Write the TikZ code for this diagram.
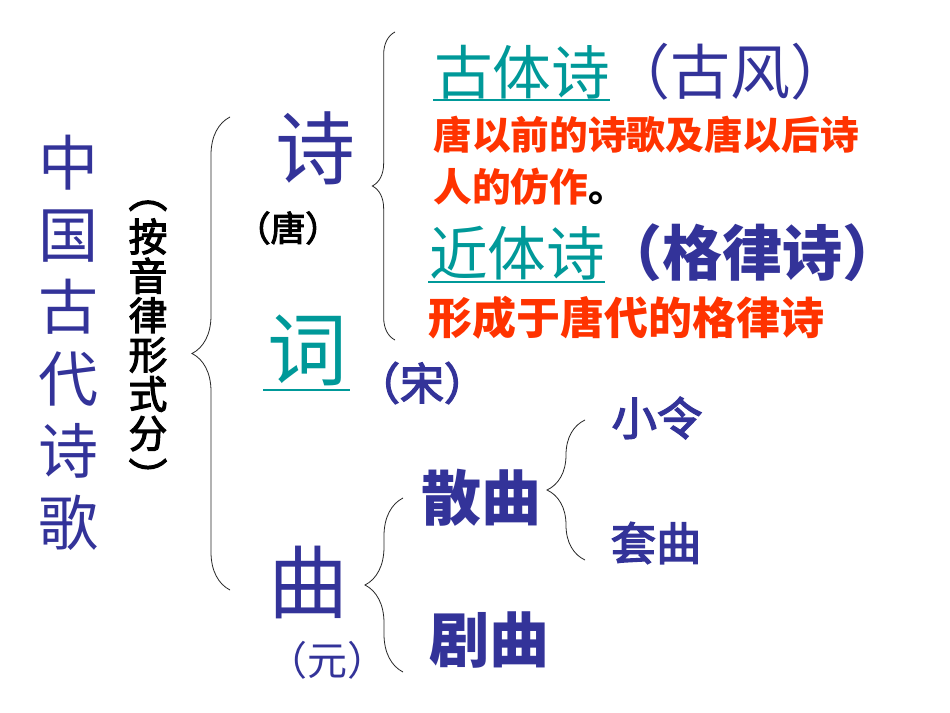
\documentclass[tikz,border=0pt]{standalone}
\usepackage{fontspec}
\setmainfont{Noto Sans CJK SC}
\newfontfamily\medf[FakeBold=3]{Noto Sans CJK SC}
\usetikzlibrary{decorations.pathreplacing}

\definecolor{navy}{RGB}{51,51,153}
\definecolor{tealc}{RGB}{0,153,153}
\definecolor{redc}{RGB}{255,51,0}

\tikzset{every picture/.style={line width=0.75pt}}
\tikzset{
  txt/.style={inner sep=0pt, anchor=center},
  big/.style={txt, font=\fontsize{60}{60}\selectfont},
  brc/.style={draw=black!85, line width=0.6pt, decorate,
    decoration={brace, amplitude=#1}},
  ul/.style={draw=tealc, line width=1.6pt}
}

\begin{document}
\begin{tikzpicture}[x=0.75pt,y=0.75pt,yscale=-1,xscale=1]
		\useasboundingbox[fill=white] (0,0) rectangle (950,713);

		%Left title, vertical
		\node[txt, navy, align=center, font=\fontsize{45}{54}\selectfont] (zggs) at (68,343) {中\\国\\古\\代\\诗\\歌};
		\node[txt, align=center, font=\medf\fontsize{29}{29.5}\selectfont] (ayl) at (148,346) {︵\\[3pt]按\\音\\律\\形\\式\\分\\[3pt]︶};

		%Shape: Brace, main
		\coordinate (b1top) at (230,117);
		\coordinate (b1bot) at (230,590);
		\draw[brc=28.5pt] (b1bot) -- (b1top);

		%shi, ci, qu
		\node[big, navy] (shi) at (315,148) {诗};
		\node[txt, font=\medf\fontsize{26}{26}\selectfont] (tang) at (288,228) {（唐）};
		\node[big, tealc] (ci) at (307,350) {词};
		\draw[ul] (263,390) -- (350,390);
		\node[txt, navy, font=\medf\fontsize{33}{33}\selectfont] (song) at (422,383) {（宋）};
		\node[big, navy] (qu) at (308,582) {曲};
		\node[txt, navy, font=\fontsize{30}{30}\selectfont] (yuan) at (327,660) {（元）};

		%Shape: Brace, shi
		\coordinate (b2top) at (395,32);
		\coordinate (b2bot) at (395,340);
		\draw[brc=17pt] (b2bot) -- (b2top);

		\node[txt, tealc, font=\fontsize{44}{44}\selectfont] (gts) at (522,72) {古体诗};
		\draw[ul] (433,100) -- (610,100);
		\node[txt, navy, font=\fontsize{45}{45}\selectfont] (gufeng) at (730,72) {（古风）};
		\node[txt, anchor=west, redc, font=\bfseries\fontsize{29}{29}\selectfont] (gtsa) at (433,135) {唐以前的诗歌及唐以后诗};
		\node[txt, anchor=west, redc, font=\bfseries\fontsize{29}{29}\selectfont] (gtsb) at (433,187) {人的仿作\textcolor{black}{。}};
		\node[txt, tealc, font=\fontsize{44}{44}\selectfont] (jts) at (517,253) {近体诗};
		\draw[ul] (428,282) -- (605,282);
		\node[txt, navy, font=\bfseries\fontsize{45}{45}\selectfont] (gls) at (752,253) {（格律诗）};
		\node[txt, anchor=west, redc, font=\bfseries\fontsize{33}{33}\selectfont] (jtsa) at (428,318) {形成于唐代的格律诗};

		%Shape: Brace, qu
		\coordinate (b3top) at (403,498);
		\coordinate (b3bot) at (403,672);
		\draw[brc=28.5pt] (b3bot) -- (b3top);

		\node[txt, navy, font=\bfseries\fontsize{45}{45}\selectfont] (sanqu) at (481,498) {散曲};
		\node[txt, navy, font=\bfseries\fontsize{45}{45}\selectfont] (juqu) at (489,640) {剧曲};

		%Shape: Brace, sanqu
		\coordinate (b4top) at (585,420);
		\coordinate (b4bot) at (585,560);
		\draw[brc=28.5pt] (b4bot) -- (b4top);

		\node[txt, navy, font=\medf\fontsize{34}{34}\selectfont] (xl) at (657,418) {小令};
		\node[txt, navy, font=\medf\fontsize{34}{34}\selectfont] (tq) at (656,543) {套曲};

	\end{tikzpicture}
\end{document}
